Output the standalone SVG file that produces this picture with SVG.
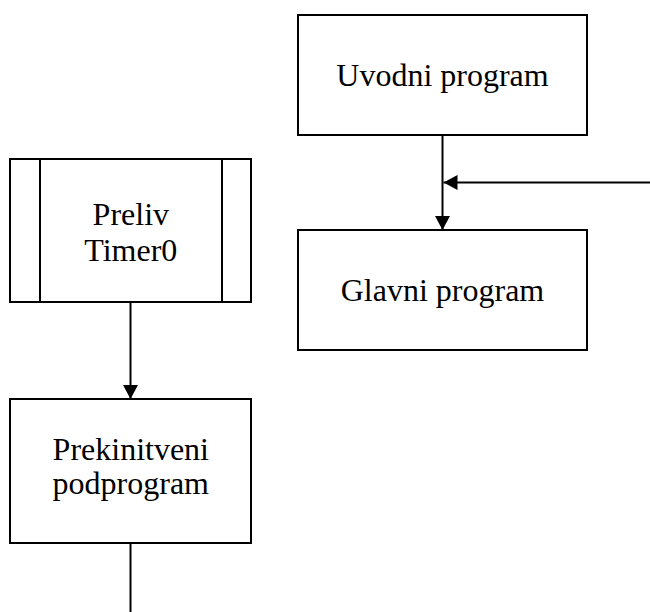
<svg xmlns="http://www.w3.org/2000/svg" width="650" height="612" viewBox="0 0 650 612">
<style>
.box{fill:#fff;stroke:#000;stroke-width:2}
.ln{fill:none;stroke:#000;stroke-width:2}
text{font-family:"Liberation Serif","Times New Roman",serif;font-size:32px;fill:#000;text-anchor:middle}
</style>
<defs>
<marker id="ah" viewBox="0 0 14 15" refX="14" refY="7.5" markerWidth="14" markerHeight="15" markerUnits="userSpaceOnUse" orient="auto">
<path d="M0,0 L14,7.5 L0,15 Z" fill="#000"/>
</marker>
</defs>
<rect width="650" height="612" fill="#fff"/>
<g id="connectors">
<path class="ln" d="M442.5,135 V230" marker-end="url(#ah)"/>
<path class="ln" d="M650,182.5 H443.5" marker-end="url(#ah)"/>
<path class="ln" d="M130.5,302 V399" marker-end="url(#ah)"/>
<path class="ln" d="M130.5,543 V612"/>
</g>
<g id="uvodni">
<rect class="box" x="298" y="15" width="289" height="120"/>
<text x="442.5" y="85.5">Uvodni program</text>
</g>
<g id="glavni">
<rect class="box" x="298" y="230" width="289" height="120"/>
<text x="442.5" y="301">Glavni program</text>
</g>
<g id="preliv">
<rect class="box" x="10" y="159" width="241" height="143"/>
<path class="ln" d="M40,159 V302 M222,159 V302"/>
<text x="130.8" y="224.5">Preliv</text>
<text x="130.8" y="260.5">Timer0</text>
</g>
<g id="prekinitveni">
<rect class="box" x="10" y="399" width="241" height="144"/>
<text x="130.8" y="459.5">Prekinitveni</text>
<text x="130.8" y="493.5">podprogram</text>
</g>
</svg>
